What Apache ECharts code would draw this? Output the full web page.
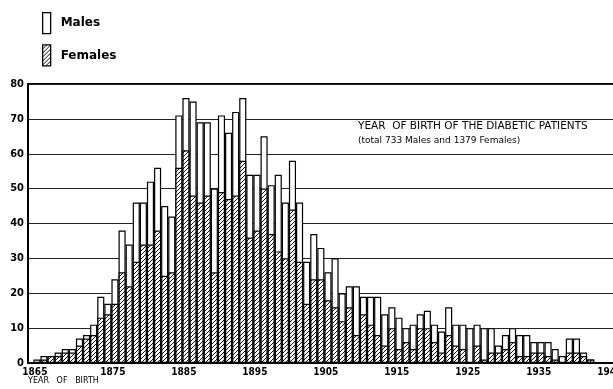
<!DOCTYPE html>
<html>
<head>
<meta charset="utf-8">
<script src="https://cdn.jsdelivr.net/npm/echarts@6/dist/echarts.min.js"></script>
<style>
  html, body { margin: 0; padding: 0; background: #fff; }
  #chart { width: 613px; height: 389px; }
</style>
</head>
<body>
<div id="chart"></div>
<script>
// Year of birth of the diabetic patients, counts per year
const years = [
  1865, 1866, 1867, 1868, 1869, 1870, 1871, 1872, 1873, 1874,
  1875, 1876, 1877, 1878, 1879, 1880, 1881, 1882, 1883, 1884,
  1885, 1886, 1887, 1888, 1889, 1890, 1891, 1892, 1893, 1894,
  1895, 1896, 1897, 1898, 1899, 1900, 1901, 1902, 1903, 1904,
  1905, 1906, 1907, 1908, 1909, 1910, 1911, 1912, 1913, 1914,
  1915, 1916, 1917, 1918, 1919, 1920, 1921, 1922, 1923, 1924,
  1925, 1926, 1927, 1928, 1929, 1930, 1931, 1932, 1933, 1934,
  1935, 1936, 1937, 1938, 1939, 1940, 1941, 1942, 1943
];

const females = [
  0, 1, 2, 2, 3, 3, 5, 7, 8, 13,
  14, 17, 26, 22, 29, 34, 34, 38, 25, 26,
  56, 61, 48, 46, 48, 26, 49, 47, 48, 58,
  36, 38, 50, 37, 32, 30, 44, 29, 17, 24,
  24, 18, 16, 12, 16, 8, 14, 11, 8, 5,
  10, 4, 6, 4, 10, 10, 6, 3, 8, 5,
  4, 0, 5, 1, 3, 3, 4, 6, 2, 2,
  3, 3, 2, 1, 0, 3, 3, 2, 1
];

const males = [
  1, 1, 0, 1, 1, 1, 2, 1, 3, 6,
  3, 7, 12, 12, 17, 12, 18, 18, 20, 16,
  15, 15, 27, 23, 21, 24, 22, 19, 24, 18,
  18, 16, 15, 14, 22, 16, 14, 17, 12, 13,
  9, 8, 14, 8, 6, 14, 5, 8, 11, 9,
  6, 9, 4, 7, 4, 5, 5, 6, 8, 6,
  7, 10, 6, 9, 7, 2, 4, 4, 6, 6,
  3, 3, 4, 3, 2, 4, 4, 1, 0
];

const yearLabels = [1865, 1875, 1885, 1895, 1905, 1915, 1925, 1935, 1945];
const countTicks = [0, 10, 20, 30, 40, 50, 60, 70, 80];

const noteLine1 = 'YEAR  OF BIRTH OF THE DIABETIC PATIENTS';
const noteLine2 = '(total 733 Males and 1379 Females)';
const axisTitle = 'YEAR   OF   BIRTH';

const numFont = '"Liberation Sans Narrow", "DejaVu Sans Condensed", sans-serif';

// the male part sits on top of the female part: the white column reaches females + males
const totals = females.map((f, i) => f + males[i]);

// diagonal hatching tile for the female bars
function hatchTile() {
  const c = document.createElement('canvas');
  c.width = 4; c.height = 4;
  const g = c.getContext('2d');
  g.fillStyle = '#ffffff';
  g.fillRect(0, 0, 4, 4);
  g.fillStyle = '#111111';
  for (let i = 0; i < 4; i++) g.fillRect(i, 3 - i, 1, 1);
  return c;
}
const hatchFill = { image: hatchTile(), repeat: 'repeat' };

const chart = echarts.init(document.getElementById('chart'), null, { renderer: 'canvas' });

chart.setOption({
  animation: false,
  backgroundColor: '#ffffff',
  grid: {
    left: 28, right: -3, top: 84, bottom: 26,
    outerBoundsMode: 'none',
    containLabel: false,
    show: true, borderColor: '#000', borderWidth: 2, backgroundColor: 'transparent'
  },
  legend: {
    data: ['Males', 'Females'],
    orient: 'vertical',
    left: 42, top: 12,
    padding: 0,
    itemWidth: 8, itemHeight: 21, itemGap: 10,
    selectedMode: false,
    icon: 'rect',
    itemStyle: { borderColor: '#000', borderWidth: 1.3 },
    textStyle: {
      fontFamily: '"DejaVu Sans", sans-serif', fontWeight: 'bold',
      fontSize: 12, color: '#000', padding: [5, 0, 0, 5]
    }
  },
  xAxis: {
    type: 'value',
    min: 1863.75,
    max: 1946.57,
    axisLine: { show: true, lineStyle: { color: '#000', width: 2 } },
    axisTick: { show: false },
    splitLine: { show: false },
    axisLabel: {
      customValues: yearLabels,
      margin: 4,
      hideOverlap: false,
      formatter: v => (v === yearLabels[0] ? '{f|' + v + '}' : '{n|' + v + '}'),
      rich: {
        f: { fontFamily: numFont, fontWeight: 'bold', fontSize: 10, color: '#000', padding: [0, 4, 0, 0] },
        n: { fontFamily: numFont, fontWeight: 'bold', fontSize: 10, color: '#000', padding: [0, 0, 0, 10] }
      }
    }
  },
  yAxis: {
    type: 'value',
    min: countTicks[0],
    max: countTicks[countTicks.length - 1],
    interval: countTicks[1] - countTicks[0],
    axisLine: { show: true, lineStyle: { color: '#000', width: 2 } },
    axisTick: { show: false },
    splitLine: { show: true, lineStyle: { color: '#222', width: 1 } },
    axisLabel: { fontFamily: numFont, fontWeight: 'bold', fontSize: 11, color: '#000', margin: 4 }
  },
  series: [
    {
      name: 'Males', type: 'bar', barWidth: 7.1, barGap: '-100%',
      data: years.map((y, i) => [y, totals[i]]),
      itemStyle: { color: '#ffffff', borderColor: '#000', borderWidth: 1.2 }
    },
    {
      name: 'Females', type: 'bar', barWidth: 7.1, barGap: '-100%',
      data: years.map((y, i) => [y, females[i]]),
      itemStyle: { color: hatchFill, borderColor: '#000', borderWidth: 1.2 }
    }
  ],
  graphic: [
    { type: 'text', left: 358, top: 121, style: { text: noteLine1, font: '10.5px "DejaVu Sans", sans-serif', fill: '#000' } },
    { type: 'text', left: 358, top: 136, style: { text: noteLine2, font: '9px "DejaVu Sans", sans-serif', fill: '#000' } },
    { type: 'text', left: 28, top: 377, style: { text: axisTitle, font: '8px "DejaVu Sans", sans-serif', fill: '#000' } }
  ]
});
</script>
</body>
</html>
